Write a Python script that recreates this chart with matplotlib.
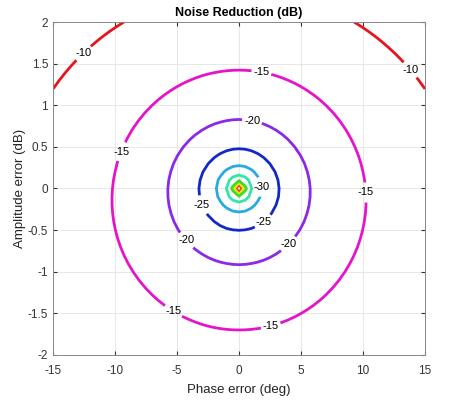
import numpy as np
from matplotlib import pyplot as plt

plt.rcParams["font.family"] = ["Liberation Sans", "DejaVu Sans"]
plt.rcParams["axes.unicode_minus"] = False

# grid of the error sweep
phase_err = np.arange(-15, 15.01, 0.5)        # deg
amp_err = np.arange(-2, 2.001, 0.1)           # dB
levels = [-50, -45, -40, -35, -30, -25, -20, -15, -10]

# where the contour labels sit (phase, amplitude)
label_spots = [
    (-12.5, 1.62), (14.0, 1.45),
    (-9.6, 0.45), (10.0, -0.05), (-5.4, -1.5), (2.6, -1.67), (1.8, 1.39),
    (1.0, 0.78), (-4.3, -0.63), (5.1, -0.83),
    (-3.0, -0.2), (2.1, -0.43),
    (1.8, 0.02),
]

# one line colour per level, low to high
level_colors = ["#e8320a", "#f0e614", "#3cdc28", "#32e6a5", "#28aae1",
                "#1428c8", "#8c28e6", "#e614c8", "#e6141e"]

# residual after subtracting a copy with gain/phase error
P, A = np.meshgrid(np.deg2rad(phase_err), amp_err)
g = 10 ** (A / 20)
residual = 1 + g ** 2 - 2 * g * np.cos(P)
nr = 10 * np.log10(np.maximum(residual, 1e-6))

fig = plt.figure(figsize=(4.61, 4.01), dpi=100)
ax = fig.add_axes([0.115, 0.115, 0.807, 0.83])

cs = ax.contour(phase_err, amp_err, nr, levels=levels,
                colors=level_colors, linewidths=2)
labels = ax.clabel(cs, manual=label_spots, fontsize=8, colors="black",
                   inline=True, inline_spacing=2, fmt="%d")
for t in labels:
    t.set_rotation(0)

ax.set_xlim(-15, 15)
ax.set_ylim(-2, 2)
ax.set_xticks(np.arange(-15, 16, 5))
ax.set_yticks(np.arange(-2, 2.01, 0.5))
ax.set_yticklabels(["-2", "-1.5", "-1", "-0.5", "0", "0.5", "1", "1.5", "2"])
ax.grid(True, color="#e3e3e3", linewidth=0.6)
ax.set_axisbelow(True)
ax.tick_params(direction="in", length=3, labelsize=8.5, colors="#333333",
               top=True, right=True)
ax.tick_params(axis="x", pad=7)
for s in ax.spines.values():
    s.set_color("#888888")
    s.set_linewidth(0.7)

ax.set_title("Noise Reduction (dB)", fontsize=9, fontweight="bold", pad=4)
ax.set_xlabel("Phase error (deg)", fontsize=9.5, color="#222222", labelpad=5)
ax.set_ylabel("Amplitude error (dB)", fontsize=9.5, color="#222222", labelpad=1)

fig.savefig("out.png", dpi=100)
